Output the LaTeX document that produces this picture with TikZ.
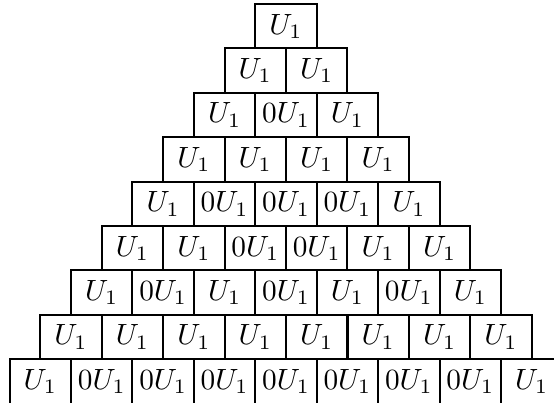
\documentclass[tikz,border=0pt]{standalone}
\begin{document}
\begin{tikzpicture}[x=0.3413pt,y=-0.3413pt,
  cell/.style={draw, line width=0.7pt, rectangle, inner sep=0pt,
    minimum width=20.97pt, minimum height=15.15pt}]
\useasboundingbox (0,0) rectangle (554,402);
\clip (0,0) rectangle (554,402);
\foreach \row [count=\n from 0] in {{1},{1,1},{1,0,1},{1,1,1,1},{1,0,0,0,1},{1,1,0,0,1,1},{1,0,1,0,1,0,1},{1,1,1,1,1,1,1,1},{1,0,0,0,0,0,0,0,1}}{
  \foreach \v [count=\k from 0] in \row {
    \node[cell] (b-\n-\k) at ({286-30.71*\n+61.43*\k},{26.2+44.4*\n})
      {\ifnum\v=1 $U_1$\else $0U_1$\fi};
  }
}
\end{tikzpicture}
\end{document}
